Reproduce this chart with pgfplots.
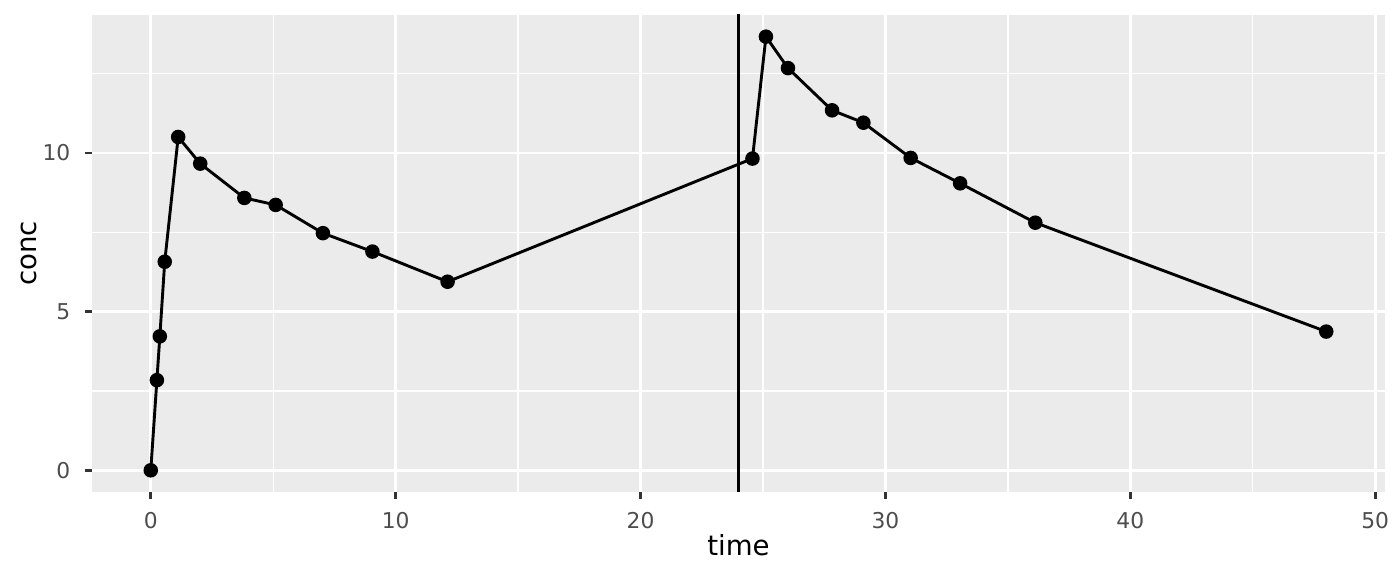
\documentclass[border=0pt]{standalone}
\usepackage{pgfplots}
\pgfplotsset{compat=1.18}
\usepackage{fontspec}
\setmainfont{DejaVu Sans}
\definecolor{ggbg}{HTML}{EBEBEB}
\definecolor{ggtick}{HTML}{333333}
\definecolor{ggtext}{HTML}{4D4D4D}
\begin{document}
\begin{tikzpicture}[x=1pt,y=1pt]
\path[use as bounding box] (0,0) rectangle (700,288);
\begin{axis}[
  at={(46pt,42pt)}, anchor=south west,
  scale only axis, width=646.5pt, height=238.5pt,
  xmin=-2.4, xmax=50.4, ymin=-0.683, ymax=14.343,
  axis background/.style={fill=ggbg},
  axis line style={draw=none},
  xtick={0,10,20,30,40,50},
  minor xtick={5,15,25,35,45},
  ytick={0,5,10},
  minor ytick={2.5,7.5,12.5},
  grid=both,
  major grid style={white, line width=1.35pt},
  minor grid style={white, line width=0.7pt},
  tick align=outside,
  major tick length=3.4pt,
  minor tick length=0pt,
  tick style={ggtick, line width=1.35pt},
  tick pos=lower,
  /pgf/number format/assume math mode=true,
  ticklabel style={font=\fontsize{10.9}{12}\selectfont, text=ggtext},
  xticklabel style={yshift=-3.4pt},
  yticklabel style={xshift=-3.9pt},
  xlabel={time}, ylabel={conc},
  label style={font=\fontsize{13.8}{15}\selectfont, text=black},
  xlabel style={at={(axis description cs:0.5,-0.1321)}, anchor=base},
  ylabel style={at={(axis description cs:-0.04277,0.5)}, anchor=base},
  clip=true,
]
\addplot[black, line width=1.45pt, mark=*, mark size=2.9pt, mark options={solid, fill=black}] coordinates {
(0,0) (0.25,2.84) (0.37,4.22) (0.57,6.57) (1.12,10.5) (2.02,9.66) (3.82,8.58)
(5.10,8.36) (7.03,7.47) (9.05,6.89) (12.12,5.94) (24.57,9.82) (25.12,13.66)
(26.02,12.67) (27.82,11.34) (29.10,10.95) (31.03,9.84) (33.05,9.04) (36.12,7.8) (48,4.37)
};
\addplot[black, line width=1.45pt] coordinates {(24,-5) (24,20)};
\end{axis}
\end{tikzpicture}
\end{document}
